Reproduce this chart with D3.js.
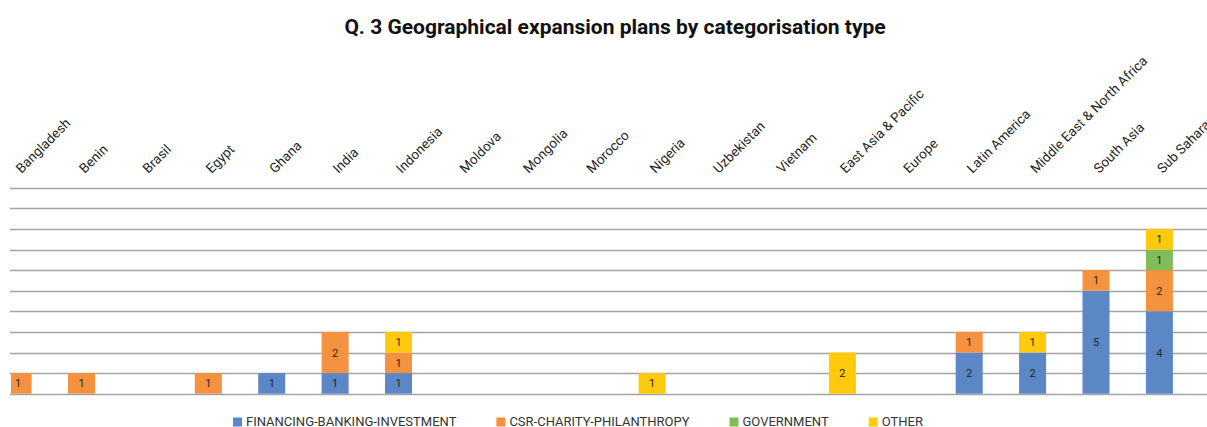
<!DOCTYPE html>
<html>
<head>
<meta charset="utf-8">
<script src="https://cdn.jsdelivr.net/npm/d3@7"></script>
<style>
  body { margin: 0; background: #fff; }
  svg { display: block; font-family: Roboto, "Noto Sans", sans-serif; }
</style>
</head>
<body>
<div id="chart"></div>
<script>
// categories (top axis) and the four series
const countries = ["Bangladesh", "Benin", "Brasil", "Egypt", "Ghana", "India", "Indonesia",
  "Moldova", "Mongolia", "Morocco", "Nigeria", "Uzbekistan", "Vietnam",
  "East Asia & Pacific", "Europe", "Latin America", "Middle East & North Africa",
  "South Asia", "Sub Saharan Africa"];
const seriesNames = ["FINANCING-BANKING-INVESTMENT", "CSR-CHARITY-PHILANTHROPY", "GOVERNMENT", "OTHER"];
const financing = [0, 0, 0, 0, 1, 1, 1, 0, 0, 0, 0, 0, 0, 0, 0, 2, 2, 5, 4];
const csr       = [1, 1, 0, 1, 0, 2, 1, 0, 0, 0, 0, 0, 0, 0, 0, 1, 0, 1, 2];
const government= [0, 0, 0, 0, 0, 0, 0, 0, 0, 0, 0, 0, 0, 0, 0, 0, 0, 0, 1];
const other     = [0, 0, 0, 0, 0, 0, 1, 0, 0, 0, 1, 0, 0, 2, 0, 0, 1, 0, 1];
const yTicks = [0, 1, 2, 3, 4, 5, 6, 7, 8, 9, 10];

const colors = ["#5b87c6", "#f4923f", "#82bb5a", "#ffc90e"];

const W = 1207, H = 427;
const svg = d3.select("#chart").append("svg")
  .attr("width", W).attr("height", H);

// title
svg.append("text")
  .attr("x", 615).attr("y", 34)
  .attr("text-anchor", "middle")
  .attr("font-size", "21px").attr("font-weight", "bold")
  .attr("fill", "#111")
  .text("Q. 3 Geographical expansion plans by categorisation type");

// scales -- the plot was cropped on the left, so the band range starts off-screen
const x = d3.scaleBand()
  .domain(countries)
  .range([-13.6, 1191.1])
  .paddingInner(0.574)
  .paddingOuter(0.287);

const y = d3.scaleLinear()
  .domain([0, 10])
  .range([393.7, 187.7]);

// gridlines
svg.append("g")
  .selectAll("line")
  .data(yTicks)
  .enter().append("line")
  .attr("x1", 10).attr("x2", W)
  .attr("y1", d => Math.round(y(d)) + 0.5)
  .attr("y2", d => Math.round(y(d)) + 0.5)
  .attr("stroke", "#a3a3a3")
  .attr("stroke-width", 1.5);

// stacked data
const table = countries.map((c, i) => ({
  country: c,
  [seriesNames[0]]: financing[i],
  [seriesNames[1]]: csr[i],
  [seriesNames[2]]: government[i],
  [seriesNames[3]]: other[i]
}));
const stacked = d3.stack().keys(seriesNames)(table);

svg.append("clipPath").attr("id", "plotclip")
  .append("rect").attr("x", 11).attr("y", 0).attr("width", W).attr("height", H);

const plot = svg.append("g").attr("clip-path", "url(#plotclip)");

const layers = plot.selectAll("g.layer")
  .data(stacked)
  .enter().append("g")
  .attr("class", "layer")
  .attr("fill", (d, i) => colors[i]);

layers.selectAll("rect")
  .data(d => d.filter(s => s[1] - s[0] > 0))
  .enter().append("rect")
  .attr("x", d => x(d.data.country))
  .attr("y", d => y(d[1]))
  .attr("width", x.bandwidth())
  .attr("height", d => y(d[0]) - y(d[1]));

// value labels in the segments
layers.selectAll("text")
  .data(d => d.filter(s => s[1] - s[0] > 0))
  .enter().append("text")
  .attr("x", d => Math.max(x(d.data.country) + x.bandwidth() / 2, 16))
  .attr("y", d => (y(d[0]) + y(d[1])) / 2 + 4)
  .attr("text-anchor", "middle")
  .attr("font-size", "11px")
  .attr("fill", "#262626")
  .text(d => d[1] - d[0]);

// category labels along the top, rotated
svg.append("g")
  .selectAll("text")
  .data(countries)
  .enter().append("text")
  .attr("transform", d => "translate(" + (x(d) + x.bandwidth() / 2 + 3.3) + ",174) rotate(-45)")
  .attr("font-size", "13.5px")
  .attr("fill", "#262626")
  .text(d => d);

// legend
const legend = svg.append("g");
let lx = 233;
seriesNames.forEach((name, i) => {
  const g = legend.append("g").attr("transform", "translate(" + lx + ",0)");
  g.append("rect")
    .attr("x", 0).attr("y", 417.5).attr("width", 9).attr("height", 9)
    .attr("fill", colors[i]);
  const t = g.append("text")
    .attr("x", 13).attr("y", 426)
    .attr("font-size", "13px")
    .attr("fill", "#333")
    .text(name);
  lx += 13 + t.node().getComputedTextLength() + 40;
});
</script>
</body>
</html>
